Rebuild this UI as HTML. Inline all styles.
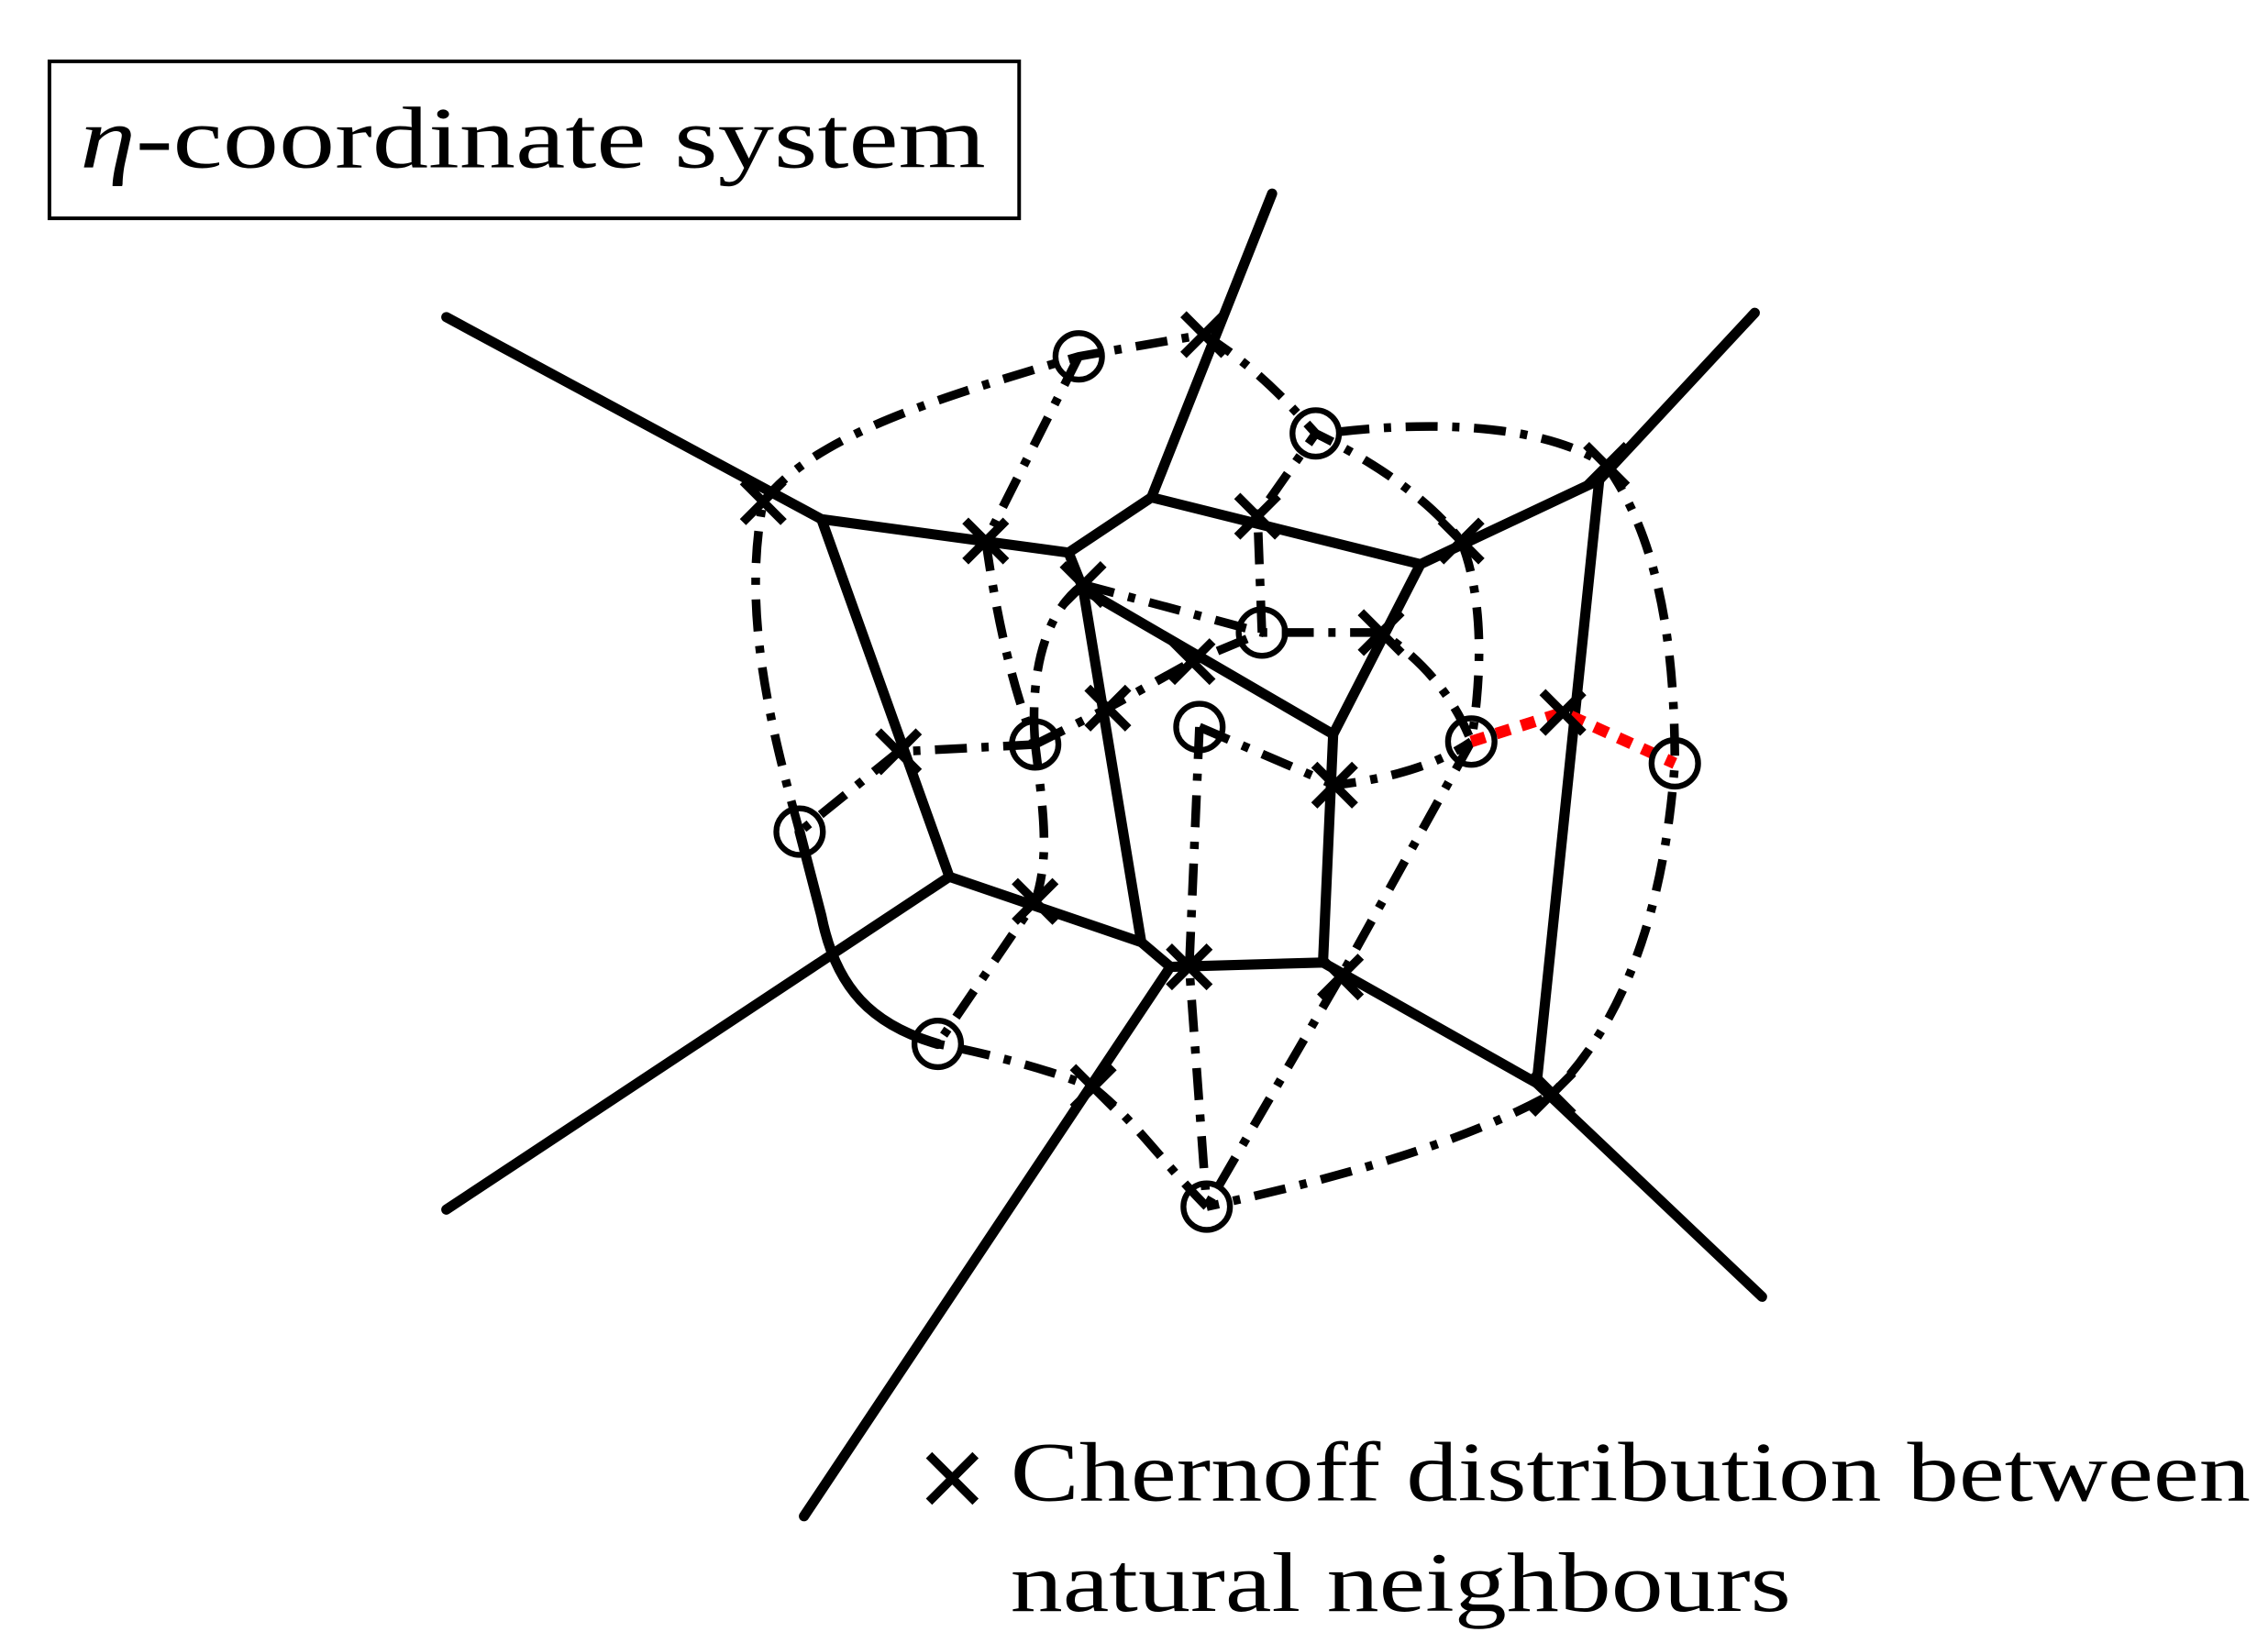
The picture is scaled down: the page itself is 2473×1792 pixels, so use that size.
<!DOCTYPE html>
<html><head><meta charset="utf-8"><style>
html,body{margin:0;padding:0;background:#fff;}
svg{display:block;}
text{font-family:"Liberation Serif",serif;fill:#000;}
</style></head><body>
<svg width="2473" height="1792" viewBox="0 0 1560 1130" xmlns="http://www.w3.org/2000/svg">
<rect x="34" y="42" width="667" height="108" fill="none" stroke="#000" stroke-width="2.5"/>
<text x="55" y="115" font-size="60" textLength="623" lengthAdjust="spacingAndGlyphs"><tspan font-style="italic">η</tspan>-coordinate system</text>
<g stroke="#000" stroke-width="7" fill="none" stroke-linecap="round" stroke-linejoin="round">
<path d="M307,218 L565,357 L735,380 L792,342 L875,133"/>
<path d="M792,342 L977,388 L1100,330 L1207,215"/>
<path d="M1100,330 L1057,745 L1212,892"/>
<path d="M1057,745 L910,662 L805,665 L553,1043"/>
<path d="M805,665 L785,648 L653,603 L307,832"/>
<path d="M653,603 L565,357"/>
<path d="M735,380 L745,405 L917,505 L977,388"/>
<path d="M745,405 L785,648"/>
<path d="M917,505 L910,662"/>
<path d="M645,718 C600,705 575,680 565,630 L550,572"/>
</g>
<g stroke="#000" stroke-width="6" fill="none" stroke-dasharray="22 10 5 10">
<path d="M525,345 C560,300 640,275 742,245 L828,230"/>
<path d="M828,230 C860,250 880,270 905,298 C940,315 980,340 1005,372"/>
<path d="M920,297 C980,290 1060,290 1105,320 C1140,370 1152,440 1152,525 C1145,620 1120,700 1068,752 C1000,790 900,815 830,830"/>
<path d="M830,830 C800,800 780,770 752,748 C720,735 680,725 645,718"/>
<path d="M550,572 C530,500 510,420 525,345"/>
<path d="M742,245 L678,372 C685,420 695,470 712,512 C718,560 722,590 712,620 L645,718"/>
<path d="M712,512 L618,517 L550,572"/>
<path d="M745,402 C720,420 708,460 712,512"/>
<path d="M712,512 L762,487 L820,455 L868,435"/>
<path d="M745,402 L868,435 L950,435 C980,455 1000,480 1012,510"/>
<path d="M868,435 L865,355 L905,298"/>
<path d="M825,500 L918,540 C960,535 990,525 1012,510"/>
<path d="M825,500 L818,665 L830,830"/>
<path d="M1012,510 L922,672 L830,830"/>
<path d="M1005,372 C1020,410 1020,460 1012,510"/>
</g>
<path d="M1012,510 L1075,490 L1152,525" stroke="#f00" stroke-width="8" fill="none" stroke-dasharray="10 8"/>
<g stroke="#000" stroke-width="4" fill="none">
<circle cx="742" cy="245" r="16"/><circle cx="905" cy="298" r="16"/>
<circle cx="868" cy="435" r="16"/><circle cx="712" cy="512" r="16"/>
<circle cx="825" cy="500" r="16"/><circle cx="1012" cy="510" r="16"/>
<circle cx="1152" cy="525" r="16"/><circle cx="550" cy="572" r="16"/>
<circle cx="645" cy="718" r="16"/><circle cx="830" cy="830" r="16"/>
</g>
<g stroke="#000" stroke-width="6">
<path d="M814,216 l28,28 m0,-28 l-28,28"/>
<path d="M511,331 l28,28 m0,-28 l-28,28"/>
<path d="M664,358 l28,28 m0,-28 l-28,28"/>
<path d="M851,341 l28,28 m0,-28 l-28,28"/>
<path d="M991,358 l28,28 m0,-28 l-28,28"/>
<path d="M1091,306 l28,28 m0,-28 l-28,28"/>
<path d="M731,388 l28,28 m0,-28 l-28,28"/>
<path d="M806,441 l28,28 m0,-28 l-28,28"/>
<path d="M936,421 l28,28 m0,-28 l-28,28"/>
<path d="M1061,476 l28,28 m0,-28 l-28,28"/>
<path d="M604,503 l28,28 m0,-28 l-28,28"/>
<path d="M748,473 l28,28 m0,-28 l-28,28"/>
<path d="M904,526 l28,28 m0,-28 l-28,28"/>
<path d="M698,606 l28,28 m0,-28 l-28,28"/>
<path d="M804,651 l28,28 m0,-28 l-28,28"/>
<path d="M908,658 l28,28 m0,-28 l-28,28"/>
<path d="M738,734 l28,28 m0,-28 l-28,28"/>
<path d="M1054,738 l28,28 m0,-28 l-28,28"/>
<path d="M639,1001 l32,32 m0,-32 l-32,32"/>
</g>
<text x="695" y="1032" font-size="58" textLength="853" lengthAdjust="spacingAndGlyphs">Chernoff distribution between</text>
<text x="695" y="1108" font-size="58" textLength="537" lengthAdjust="spacingAndGlyphs">natural neighbours</text>
</svg>
</body></html>
